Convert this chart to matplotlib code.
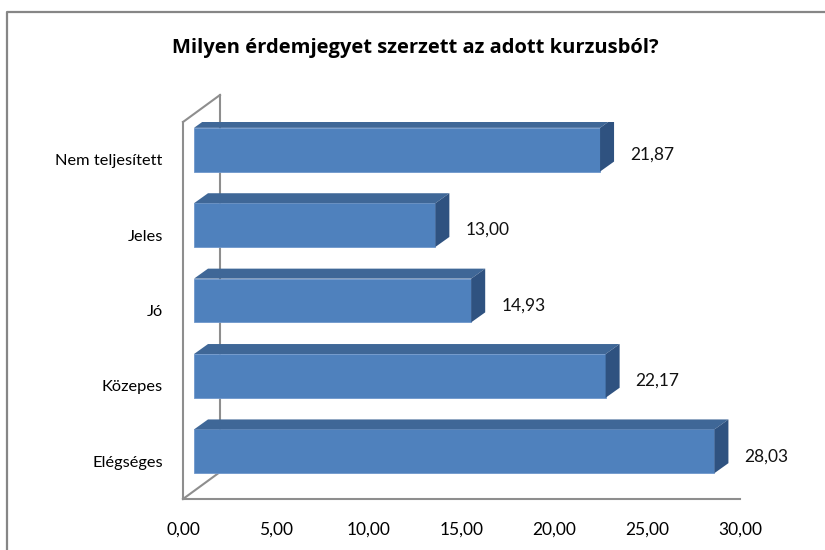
import matplotlib
matplotlib.use("Agg")
import matplotlib.pyplot as plt
from matplotlib.patches import Polygon
from matplotlib.lines import Line2D

# data
categories = ["Elégséges", "Közepes", "Jó", "Jeles", "Nem teljesített"]
values = [28.03, 22.17, 14.93, 13.00, 21.87]
ticks = [0, 5, 10, 15, 20, 25, 30]
tick_labels = ["0,00", "5,00", "10,00", "15,00", "20,00", "25,00", "30,00"]
title = "Milyen érdemjegyet szerzett az adott kurzusból?"

plt.rcParams['font.family'] = ['Lato', 'DejaVu Sans']

W, H = 825, 550
fig = plt.figure(figsize=(W / 100, H / 100), dpi=100)

# front plane of the 3D plot: x 183..740 px, y 122..499 px
x0, x1, y0, y1 = 183, 740, 122, 499
ax = fig.add_axes([x0 / W, 1 - y1 / H, (x1 - x0) / W, (y1 - y0) / H])
ax.set_xlim(0, 30)
ax.set_ylim(-0.5, len(categories) - 0.5)
for s in ax.spines.values():
    s.set_visible(False)
ax.patch.set_visible(False)

# pixel size in data units
px = 30 / (x1 - x0)
py = len(categories) / (y1 - y0)

wall = '#8e8e8e'
# back wall offset
bx, by = 37 * px, 27 * py
ylo, yhi = -0.5, len(categories) - 0.5
kw = dict(color=wall, lw=1.5, clip_on=False, solid_capstyle='projecting')
ax.plot([bx, bx], [ylo + by, yhi + by], zorder=1, **kw)
ax.plot([0, bx], [yhi, yhi + by], zorder=1, **kw)
ax.plot([0, bx], [ylo, ylo + by], zorder=1, **kw)
ax.plot([0, 0], [ylo, yhi], zorder=5, **kw)
ax.plot([0, 30], [ylo, ylo], zorder=5, **kw)

# bars: front face shifted into the depth, plus top and side faces
fx, fy = 11 * px, 10 * py
dx, dy = 14 * px, 10 * py
h = 0.58
ypos = list(range(len(categories)))
ax.barh([y + fy for y in ypos], values, height=h, left=fx,
        color='#4f81bd', edgecolor='#6f97cc', linewidth=0.6, zorder=3)
for y, v in zip(ypos, values):
    top = y + fy + h / 2
    bot = y + fy - h / 2
    right = fx + v
    ax.add_patch(Polygon([(fx, top), (right, top), (right + dx, top + dy), (fx + dx, top + dy)],
                         closed=True, facecolor='#3f6797', edgecolor='none', zorder=3))
    ax.add_patch(Polygon([(right, bot), (right + dx, bot + dy), (right + dx, top + dy), (right, top)],
                         closed=True, facecolor='#2f5280', edgecolor='none', zorder=3))
    ax.text(v + 41 * px, y + 5 * py, f"{v:.2f}".replace(".", ","),
            ha='left', va='center', fontsize=12.5, color='#111111')

ax.set_xticks(ticks)
ax.set_xticklabels(tick_labels, fontsize=12.5)
ax.set_yticks(ypos)
ax.set_yticklabels(categories, fontsize=11.8)
ax.tick_params(axis='x', length=0, pad=16)
ax.tick_params(axis='y', length=0, pad=14.5)

fig.text(415 / W, 1 - 48 / H, title, ha='center', va='center',
         fontsize=14.5, fontweight='bold', color='#000000',
         family=['Open Sans', 'DejaVu Sans'])

# chart area border (only top and left edges visible)
fig.add_artist(Line2D([7 / W, 7 / W, 1.02], [-0.02, 1 - 12 / H, 1 - 12 / H],
                      transform=fig.transFigure, color='#868686', lw=1.6))

fig.savefig("out.png", dpi=100)
